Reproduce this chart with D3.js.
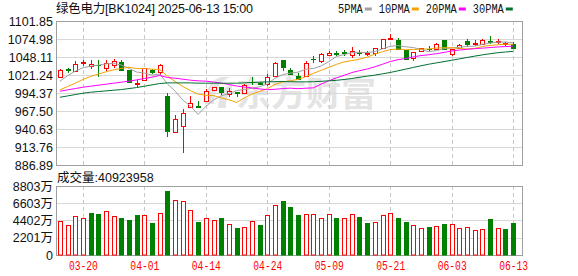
<!DOCTYPE html>
<html lang="zh-CN">
<head>
<meta charset="UTF-8">
<title>绿色电力 BK1024 日K</title>
<script src="https://cdn.jsdelivr.net/npm/d3@7"></script>
<style>
  body { margin: 0; background: #fff; }
  text { font-family: "Liberation Sans", Arial, "Noto Sans CJK SC", sans-serif; }
</style>
</head>
<body>
<script>
// 交易日
const dates = [
  "03-17","03-18","03-19","03-20","03-21","03-24","03-25","03-26","03-27","03-28","03-31",
  "04-01","04-02","04-03","04-07","04-08","04-09","04-10","04-11","04-14","04-15","04-16",
  "04-17","04-18","04-21","04-22","04-23","04-24","04-25","04-28","04-29","04-30",
  "05-06","05-07","05-08","05-09","05-12","05-13","05-14","05-15","05-16","05-19","05-20",
  "05-21","05-22","05-23","05-26","05-27","05-28","05-29","05-30",
  "06-03","06-04","06-05","06-06","06-09","06-10","06-11","06-12","06-13"
];

// K线 开高低收
const open = [1019,1029.5,1027.7,1039,1035,1036,1032,1035.5,1040.5,1028,1008,1013.8,1028.5,1025,990.3,
  936.6,945,974,975,982.8,999.3,1003,993,995.5,995,1011,1009,1007.8,1020.2,1043.6,
  1028.7,1020.2,1020.2,1045,1042.6,1051.2,1054,1055,1051,1055,1052.5,1053.6,1061,1075.5,1073.5,
  1058.5,1046,1057,1060,1060,1073.5,1052,1061,1071.5,1068,1068,1072.5,1071,1068,1067];
const high = [1029.5,1031,1042,1043,1044,1044,1043.6,1045,1043.6,1029,1014.5,1032,1029.5,1037.6,994.8,
  961.5,970,990,982,1000,1004,1003.5,1001.4,996,1007.5,1018.7,1011,1022.7,1041,1044,
  1032,1023.8,1042,1049,1054.5,1057,1057,1058.5,1063,1059,1057,1062,1075,1083,1076,
  1059,1056,1062,1064,1069,1074,1060.5,1067,1075,1073,1075,1080,1075,1071,1071];
const low = [1018,1024.5,1025,1035,1030,1019,1027.5,1031,1027,1010,1003.5,1013,1022,1021,928.2,
  936,905,973,974,982,998,991.4,988.8,988,994,1006.6,1006,1005,1019,1027.7,
  1021,1014,1017.8,1039,1039.6,1049,1049,1050,1046,1050,1050,1049,1060,1074,1059,
  1044,1042,1055,1056,1059,1059,1050,1060,1063,1064,1066,1068,1067,1065,1060];
const close = [1028.5,1029,1037.6,1040,1037.5,1035.5,1038.7,1041.5,1028,1011.5,1009,1031,1026,1036,938,
  955,965,980,974,997.4,1003,996.3,997.8,995,1006.5,1010.5,1008.5,1017.8,1038.7,1033.3,
  1022.3,1015.2,1039.6,1044.5,1052,1054.5,1053.3,1054.5,1057.5,1054.5,1053.5,1061,1074.5,1076.5,1060,
  1045,1055,1061,1059.5,1067.5,1059.5,1060.5,1065.5,1067,1069,1073,1071,1071.5,1068.5,1062];

// 成交量（万）
const volume = [4295,3785,4933,4678,5359,5231,5571,4933,4721,4466,5104,5061,4083,5316,8166,
  6975,6847,5699,4210,4678,4423,4678,3913,3445,3530,4295,3828,5104,6380,6890,
  6124,5104,5231,5231,4678,5231,4721,4678,5231,4848,4125,4210,5104,5359,4721,
  4210,3828,3445,3573,3700,3955,3955,3402,3530,3147,3275,4593,3402,3317,4092.3958];

// 均线
const ma5 = [1012,1020,1027,1032,1034.5,1035.9,1037.9,1038.6,1036.2,1031,1025.7,1024.2,1021.1,1022.7,1008,
  997.2,984,974.8,962.4,974.3,983.9,990.1,993.7,997.9,999.7,1001.2,1003.7,1007.7,1016.4,1021.8,
  1024.1,1025.5,1029.8,1031,1034.7,1041.2,1048.8,1051.8,1054.4,1054.9,1054.7,1056.2,1060.2,1064,1065.1,
  1063.4,1062.2,1059.5,1056.1,1057.6,1060.5,1061.6,1062.5,1064,1064.3,1067,1069.1,1070.3,1070.6,1069.2];
const ma10 = [999,1004,1009,1014.5,1019,1022.5,1026,1029,1031,1032.8,1030.8,1031,1029.9,1029.5,1019.5,
  1011.5,1004.1,998,992.6,991.1,990.5,987.1,984.3,980.2,987,992.6,996.9,1000.7,1007.2,1010.7,
  1012.7,1014.6,1018.7,1023.7,1028.2,1032.6,1037.1,1040.8,1042.7,1044.8,1047.9,1052.5,1056,1059.2,1060,
  1059,1059.2,1059.9,1060,1061.4,1062,1061.9,1061,1060,1061,1063.8,1065.4,1066.4,1067.3,1066.8];
const ma20 = [997,999,1001,1003,1004.5,1006,1007.5,1009,1010.5,1012,1014,1016,1018,1020.5,1017.5,
  1016.5,1015,1013.5,1012.5,1012,1010.7,1009.1,1007.1,1004.8,1003.3,1002,1000.5,999.3,999.9,1001,
  1001.6,1000.8,1001.5,1002,1007.6,1012.5,1017,1020.7,1024.9,1027.7,1030.2,1033.5,1037.3,1041.4,1044.1,
  1045.8,1048.2,1050.3,1051.4,1053.1,1054.9,1057.2,1058.5,1059.6,1060.5,1061.3,1062.2,1063.1,1063.7,1064.2];
const ma30 = [988,990,992,994,995.5,996.5,997.5,998.5,999.5,1001,1002.5,1004.5,1006.5,1008.5,1009.5,
  1009.5,1009.5,1009.5,1009,1009,1009,1009,1009,1009,1009.5,1010,1010.5,1011,1011.3,1011.5,
  1011.3,1011,1011,1011.2,1011.8,1012.5,1013.3,1014.5,1016,1017.8,1019.5,1021,1023,1025,1027.5,
  1030,1032.5,1035,1037.3,1039.3,1041.2,1043.2,1045.3,1047.4,1049.4,1051.3,1053,1054.5,1055.6,1056.5];

const priceTicks = [886.89, 913.76, 940.63, 967.50, 994.37, 1021.24, 1048.11, 1074.98, 1101.85];
const volTicks = [0, 2201, 4402, 6603, 8803];
const dateTicks = ["03-20","04-01","04-14","04-24","05-09","05-21","06-03","06-13"];
const maNames = ["5PMA", "10PMA", "20PMA", "30PMA"];

const W = 578, H = 276;
const left = 56, right = 522;
const pTop = 21, pBot = 165, vTop = 186, vBot = 255;
const RED = "#ff0000", GREEN = "#008000";
const maColors = ["#a0a0a0", "#f4a300", "#ff00ff", "#007030"];

const svg = d3.select("body").append("svg")
  .attr("width", W).attr("height", H)
  .style("display", "block");

const x = d3.scalePoint().domain(dates).range([left, 517]).padding(0.5);
const cx = d => Math.round(x(d)) + 0.5;
const y = d3.scaleLinear().domain([886.89, 1101.85]).range([pBot, pTop]);
const vy = d3.scaleLinear().domain([0, 8803]).range([vBot, vTop]);

const bars = dates.map((d, i) => {
  const prev = i ? close[i - 1] : open[i];
  const c = close[i], o = open[i];
  return {
    date: d, o, h: high[i], l: low[i], c, v: volume[i],
    up: c > o || (c === o && c >= prev),
    volUp: i ? c > prev : c > o
  };
});

// 水印
const wm = svg.append("g").attr("fill", "#e4e4e4");
wm.append("path")
  .attr("d", "M205,104 Q206,80 222,77 L230,77 Q214,84 214,104 Z M218,108 Q219,88 232,84 L232,92 Q225,96 226,108 Z")
  .attr("fill", "#e4e4e4");
wm.append("text")
  .attr("x", 236).attr("y", 106)
  .attr("font-size", 34).attr("font-weight", "bold")
  .style("font-family", "'Noto Sans CJK SC'")
  .attr("textLength", 140).attr("lengthAdjust", "spacingAndGlyphs")
  .text("东方财富");

// 网格
svg.append("g").selectAll("line")
  .data(priceTicks.slice(1, -1)).join("line")
  .attr("x1", left).attr("x2", right)
  .attr("y1", d => Math.round(y(d)) + 0.5).attr("y2", d => Math.round(y(d)) + 0.5)
  .attr("stroke", "#d8d8d8");

svg.append("g").selectAll("line")
  .data(volTicks.slice(1, -1)).join("line")
  .attr("x1", left).attr("x2", right)
  .attr("y1", d => Math.round(vy(d)) + 0.5).attr("y2", d => Math.round(vy(d)) + 0.5)
  .attr("stroke", "#d8d8d8");

[[pTop, pBot], [vTop, vBot]].forEach(([t, b]) => {
  svg.append("g").selectAll("line")
    .data(dateTicks).join("line")
    .attr("x1", cx).attr("x2", cx)
    .attr("y1", t).attr("y2", b)
    .attr("stroke", "#c8c8c8")
    .attr("stroke-dasharray", "4,3");
});

// 边框
svg.append("rect")
  .attr("x", left + 0.5).attr("y", pTop + 0.5)
  .attr("width", right - left).attr("height", pBot - pTop)
  .attr("fill", "none").attr("stroke", "#a0a0a0");
svg.append("rect")
  .attr("x", left + 0.5).attr("y", vTop + 0.5)
  .attr("width", right - left).attr("height", vBot - vTop)
  .attr("fill", "none").attr("stroke", "#a0a0a0");

// 蜡烛
const candle = svg.append("g").selectAll("g")
  .data(bars).join("g");

candle.append("line")
  .attr("x1", d => cx(d.date)).attr("x2", d => cx(d.date))
  .attr("y1", d => Math.round(y(d.h))).attr("y2", d => Math.round(y(d.l)))
  .attr("stroke", d => d.up ? RED : GREEN);

candle.append("rect")
  .attr("x", d => cx(d.date) - 2)
  .attr("y", d => Math.round(y(Math.max(d.o, d.c))) + 0.5)
  .attr("width", 4)
  .attr("height", d => Math.max(0.01, Math.round(y(Math.min(d.o, d.c))) - Math.round(y(Math.max(d.o, d.c)))))
  .attr("fill", d => d.up ? "#fff" : GREEN)
  .attr("stroke", d => d.up ? RED : GREEN);

// 均线
const line = d3.line().x((d, i) => x(dates[i])).y(d => y(d));
[ma5, ma10, ma20, ma30].forEach((s, k) => {
  svg.append("path")
    .attr("d", line(s))
    .attr("fill", "none")
    .attr("stroke", maColors[k])
    .attr("stroke-width", 1);
});

// 成交量
svg.append("g").selectAll("rect")
  .data(bars).join("rect")
  .attr("x", d => cx(d.date) - 2)
  .attr("y", d => Math.round(vy(d.v)) + 0.5)
  .attr("width", 4)
  .attr("height", d => vBot - Math.round(vy(d.v)) - 0.5)
  .attr("fill", d => d.volUp ? "#fff" : GREEN)
  .attr("stroke", d => d.volUp ? RED : GREEN);

// 坐标轴
const yAxis = svg.append("g")
  .attr("transform", `translate(${left},0)`)
  .call(d3.axisLeft(y).tickValues(priceTicks).tickFormat(d => d.toFixed(2)).tickSize(0).tickPadding(3));
const vAxis = svg.append("g")
  .attr("transform", `translate(${left},0)`)
  .call(d3.axisLeft(vy).tickValues(volTicks).tickFormat(d => d === 0 ? "0" : d + "万").tickSize(0).tickPadding(3));
[yAxis, vAxis].forEach(g => {
  g.select(".domain").remove();
  g.selectAll("text")
    .attr("font-size", 12.5)
    .attr("fill", "#111")
    .style("font-family", "'Liberation Sans', Arial, 'Noto Sans CJK SC'");
});

const xAxis = svg.append("g")
  .attr("transform", `translate(0,${vBot})`)
  .call(d3.axisBottom(x).tickValues(dateTicks).tickSize(0).tickPadding(6));
xAxis.select(".domain").remove();
xAxis.selectAll("text")
  .attr("fill", RED)
  .attr("font-size", 12)
  .style("font-family", "'Liberation Mono', monospace")
  .attr("textLength", 29)
  .attr("lengthAdjust", "spacingAndGlyphs");

// 标题
svg.append("text")
  .attr("x", left).attr("y", 13)
  .attr("font-size", 12.5)
  .attr("fill", "#111")
  .attr("textLength", 197).attr("lengthAdjust", "spacing")
  .text("绿色电力[BK1024] 2025-06-13 15:00");

svg.append("text")
  .attr("x", left + 1).attr("y", 182)
  .attr("font-size", 12.5)
  .attr("fill", "#111")
  .text("成交量:" + Math.round(volume[volume.length - 1] * 10000));

// 图例
let lx = 338;
maNames.forEach((name, k) => {
  const tl = name.length * 6.2;
  svg.append("text")
    .attr("x", lx).attr("y", 13)
    .attr("font-size", 12)
    .attr("fill", "#111")
    .style("font-family", "'Liberation Mono', monospace")
    .attr("textLength", tl).attr("lengthAdjust", "spacingAndGlyphs")
    .text(name);
  svg.append("rect")
    .attr("x", lx + tl + 2).attr("y", 7.5)
    .attr("width", 7).attr("height", 3)
    .attr("fill", maColors[k]);
  lx += tl + 16;
});
</script>
</body>
</html>
